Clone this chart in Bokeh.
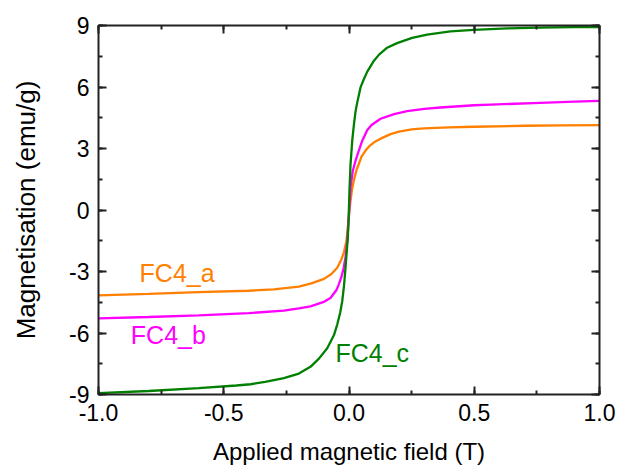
from bokeh.plotting import figure
from bokeh.models import (Range1d, LinearAxis, SingleIntervalTicker, NumeralTickFormatter,
                          CustomJSTickFormatter, ColumnDataSource)
from bokeh.core.properties import value
from bokeh.embed import file_html
from bokeh.resources import INLINE

# ---- data ----
field_a = [-1.0, -0.8, -0.6, -0.4, -0.3, -0.2, -0.15, -0.1, -0.07, -0.047, -0.03, -0.02, -0.01,
           0.0, 0.006, 0.012, 0.019, 0.03, 0.039, 0.05, 0.066, 0.08, 0.1, 0.126, 0.166, 0.2,
           0.25, 0.3, 0.4, 0.5, 0.7, 0.85, 1.0]
mag_a = [-4.16, -4.09, -4.01, -3.94, -3.87, -3.74, -3.58, -3.36, -3.12, -2.82, -2.4, -2.05, -1.5,
         -0.25, 0.44, 1.0, 1.42, 1.95, 2.24, 2.6, 2.9, 3.1, 3.3, 3.48, 3.7, 3.82,
         3.93, 3.98, 4.03, 4.06, 4.11, 4.13, 4.14]

field_b = [-1.0, -0.8, -0.6, -0.4, -0.26, -0.2, -0.154, -0.1, -0.074, -0.05, -0.041, -0.03,
           -0.021, -0.014, -0.007, 0.0, 0.006, 0.015, 0.026, 0.039, 0.053, 0.073, 0.09, 0.126,
           0.18, 0.232, 0.3, 0.365, 0.5, 0.565, 0.764, 0.9, 1.0]
mag_b = [-5.29, -5.22, -5.14, -5.03, -4.91, -4.80, -4.70, -4.48, -4.29, -3.9, -3.64, -3.25,
         -2.82, -2.3, -1.52, -0.2, 1.09, 1.9, 2.4, 2.89, 3.38, 3.9, 4.15, 4.45,
         4.68, 4.82, 4.93, 5.0, 5.11, 5.14, 5.23, 5.29, 5.32]

field_c = [-1.0, -0.8, -0.6, -0.45, -0.393, -0.335, -0.26, -0.2, -0.154, -0.12, -0.087, -0.06,
           -0.047, -0.035, -0.027, -0.02, -0.014, -0.005, -0.002, 0.002, 0.006, 0.013, 0.02,
           0.026, 0.033, 0.046, 0.06, 0.073, 0.099, 0.12, 0.15, 0.192, 0.252, 0.312, 0.405,
           0.498, 0.631, 0.764, 0.9, 1.0]
mag_c = [-8.93, -8.83, -8.69, -8.56, -8.50, -8.38, -8.2, -7.98, -7.65, -7.25, -6.74, -6.1,
         -5.59, -5.0, -4.45, -3.7, -2.82, -1.4, -0.6, 1.0, 2.2, 3.4, 4.2,
         4.8, 5.25, 5.98, 6.4, 6.75, 7.27, 7.58, 7.9, 8.14, 8.40, 8.56, 8.71,
         8.79, 8.86, 8.90, 8.92, 8.92]

series_names = ["FC4_a", "FC4_b", "FC4_c"]
series_colors = ["#FF7F00", "#FF00FF", "#008000"]

label_x = [-0.836, -0.871, -0.054]
label_y = [-3.05, -6.12, -6.99]

x_label = "Applied magnetic field (T)"
y_label = "Magnetisation (emu/g)"

FONT = "Liberation Sans"

p = figure(width=619, height=469, output_backend="svg", toolbar_location=None,
           x_range=Range1d(-1.0, 1.0), y_range=Range1d(-9, 9),
           min_border_left=98, min_border_right=20, min_border_top=25, min_border_bottom=75)
p.grid.visible = False
p.outline_line_color = None
p.background_fill_color = "white"
p.border_fill_color = "white"

for xs, ys, c in zip([field_a, field_b, field_c], [mag_a, mag_b, mag_c], series_colors):
    p.line(xs, ys, line_color=c, line_width=2.3)

src = ColumnDataSource(dict(x=label_x, y=label_y, t=series_names, c=series_colors))
p.text(x="x", y="y", text="t", text_color="c", source=src, text_font=value(FONT),
       text_font_size="25px", text_align="left", text_baseline="middle")

bottom = p.below[0]
left = p.left[0]
bottom.ticker = SingleIntervalTicker(interval=0.5, num_minor_ticks=2)
left.ticker = SingleIntervalTicker(interval=3, num_minor_ticks=2)
bottom.formatter = NumeralTickFormatter(format="0.0")
left.formatter = NumeralTickFormatter(format="0")
bottom.axis_label = x_label
left.axis_label = y_label

blank = CustomJSTickFormatter(code="return ''")
top = LinearAxis(ticker=SingleIntervalTicker(interval=0.5, num_minor_ticks=2), formatter=blank)
right = LinearAxis(ticker=SingleIntervalTicker(interval=3, num_minor_ticks=2), formatter=blank)
p.add_layout(top, "above")
p.add_layout(right, "right")

for ax in [bottom, left, top, right]:
    ax.axis_line_color = "#222222"
    ax.axis_line_width = 2
    ax.major_tick_line_color = "#222222"
    ax.minor_tick_line_color = "#222222"
    ax.major_tick_line_width = 2
    ax.minor_tick_line_width = 2
    ax.major_tick_in = 8
    ax.major_tick_out = 0
    ax.minor_tick_in = 4
    ax.minor_tick_out = 0
    ax.major_label_text_font = FONT
    ax.major_label_text_font_size = "23px"
    ax.major_label_text_color = "black"
    ax.axis_label_text_font = FONT
    ax.axis_label_text_font_style = "normal"
    ax.axis_label_text_color = "black"

top.major_label_standoff = 0
right.major_label_standoff = 0
top.major_label_text_font_size = "1px"
right.major_label_text_font_size = "1px"

bottom.major_label_standoff = 9
left.major_label_standoff = 9
bottom.axis_label_text_font_size = "24px"
left.axis_label_text_font_size = "26px"
bottom.axis_label_standoff = 14
left.axis_label_standoff = 25

open("out.html", "w").write(file_html(p, INLINE))
